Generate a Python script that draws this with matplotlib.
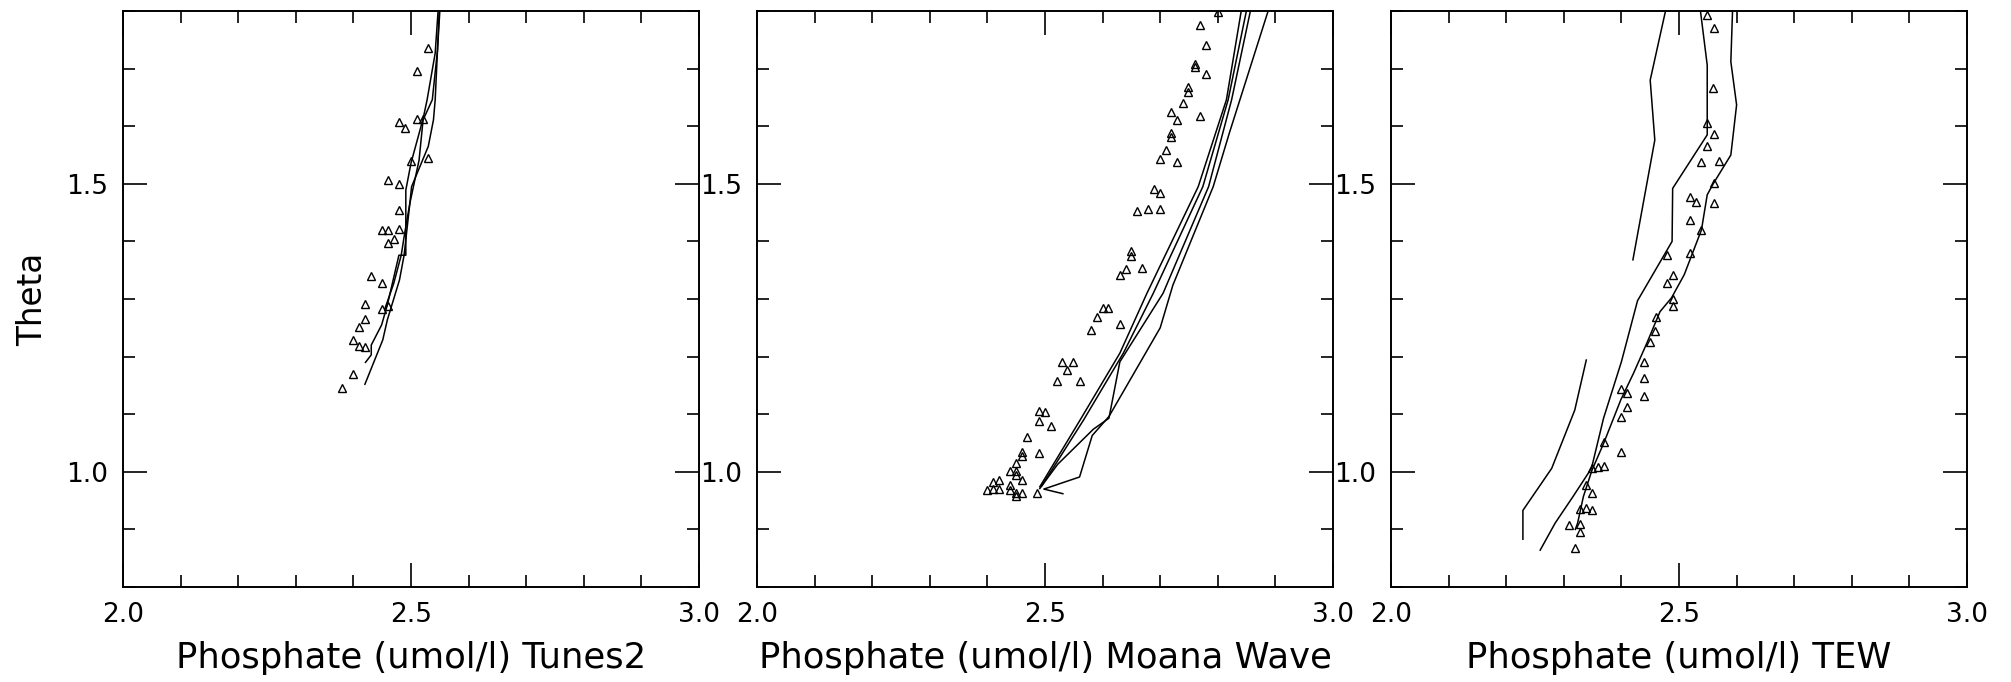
import matplotlib
matplotlib.use('Agg')
import matplotlib.pyplot as plt
from matplotlib.ticker import MultipleLocator

plt.rcParams['font.family'] = ['DejaVu Sans']

# ---------------- data ----------------
# Panel 1: Tunes2
tunes2_obs_x = [2.530, 2.510, 2.480, 2.490, 2.510, 2.521, 2.500, 2.530, 2.460, 2.480,
                2.480, 2.450, 2.460, 2.480, 2.470, 2.460, 2.430, 2.450, 2.421, 2.450,
                2.460, 2.421, 2.410, 2.400, 2.410, 2.421, 2.400, 2.380]
tunes2_obs_y = [1.736, 1.696, 1.607, 1.597, 1.612, 1.613, 1.540, 1.545, 1.507, 1.499,
                1.455, 1.420, 1.420, 1.421, 1.404, 1.397, 1.340, 1.327, 1.291, 1.283,
                1.288, 1.265, 1.252, 1.229, 1.219, 1.216, 1.170, 1.145]
tunes2_l1_x = [2.420, 2.451, 2.459, 2.480, 2.488, 2.498, 2.501, 2.530, 2.539, 2.542, 2.546, 2.549, 2.552]
tunes2_l1_y = [1.152, 1.229, 1.264, 1.333, 1.376, 1.466, 1.495, 1.565, 1.611, 1.646, 1.732, 1.800, 1.850]
tunes2_l2_x = [2.421, 2.431, 2.431, 2.449, 2.459, 2.479, 2.491, 2.491, 2.500, 2.521, 2.528, 2.542, 2.547, 2.551]
tunes2_l2_y = [1.190, 1.203, 1.220, 1.255, 1.290, 1.376, 1.376, 1.489, 1.536, 1.613, 1.646, 1.727, 1.800, 1.850]
tunes2_l3_x = [2.455, 2.470, 2.483, 2.489, 2.498, 2.514, 2.521, 2.537, 2.546, 2.553]
tunes2_l3_y = [1.284, 1.327, 1.376, 1.414, 1.466, 1.541, 1.611, 1.646, 1.732, 1.850]

# Panel 2: Moana Wave
moana_obs_x = [2.800, 2.769, 2.780, 2.760, 2.760, 2.780, 2.749, 2.749, 2.740, 2.719,
               2.730, 2.769, 2.719, 2.719, 2.710, 2.700, 2.730, 2.689, 2.700, 2.660,
               2.679, 2.700, 2.649, 2.649, 2.640, 2.630, 2.669,
               2.600, 2.610, 2.590, 2.630, 2.580, 2.530, 2.549, 2.539, 2.520, 2.560,
               2.490, 2.500, 2.490, 2.510, 2.469, 2.460, 2.460, 2.490, 2.450, 2.439,
               2.450, 2.450, 2.460, 2.409, 2.420, 2.439, 2.400, 2.410, 2.420, 2.439,
               2.450, 2.460, 2.450, 2.486]
moana_obs_y = [1.798, 1.776, 1.741, 1.708, 1.702, 1.691, 1.668, 1.660, 1.640, 1.624,
               1.611, 1.618, 1.589, 1.582, 1.558, 1.543, 1.537, 1.491, 1.484, 1.452,
               1.456, 1.456, 1.384, 1.374, 1.352, 1.342, 1.354,
               1.285, 1.284, 1.268, 1.256, 1.246, 1.190, 1.190, 1.176, 1.157, 1.157,
               1.106, 1.104, 1.089, 1.080, 1.061, 1.035, 1.028, 1.032, 1.015, 1.001,
               1.001, 0.995, 0.986, 0.983, 0.985, 0.977, 0.968, 0.971, 0.970, 0.968,
               0.963, 0.963, 0.958, 0.963]
moana_l1_x = [2.491, 2.522, 2.584, 2.611, 2.630, 2.705, 2.784, 2.824, 2.857, 2.870]
moana_l1_y = [0.971, 1.013, 1.074, 1.093, 1.191, 1.310, 1.495, 1.646, 1.802, 1.860]
moana_l2_x = [2.531, 2.498, 2.560, 2.582, 2.611, 2.700, 2.722, 2.792, 2.820, 2.888, 2.905]
moana_l2_y = [0.962, 0.970, 0.991, 1.063, 1.096, 1.250, 1.324, 1.495, 1.588, 1.802, 1.860]
moana_l3_x = [2.491, 2.561, 2.630, 2.677, 2.766, 2.815, 2.841, 2.851]
moana_l3_y = [0.974, 1.090, 1.206, 1.310, 1.495, 1.646, 1.802, 1.860]
moana_l4_x = [2.494, 2.567, 2.636, 2.688, 2.774, 2.818, 2.850, 2.860]
moana_l4_y = [0.975, 1.090, 1.206, 1.310, 1.495, 1.646, 1.802, 1.860]

# Panel 3: TEW
tew_obs_x = [2.549, 2.560, 2.559, 2.549, 2.560, 2.549, 2.539, 2.569, 2.560, 2.519,
             2.530, 2.560, 2.519, 2.539, 2.479, 2.519, 2.489, 2.479,
             2.489, 2.489, 2.460, 2.458, 2.449, 2.439, 2.439, 2.439, 2.399, 2.409,
             2.409, 2.399, 2.369, 2.399, 2.349, 2.359, 2.369, 2.339, 2.349, 2.328,
             2.339, 2.349, 2.309, 2.328, 2.328, 2.319]
tew_obs_y = [1.793, 1.771, 1.666, 1.606, 1.586, 1.566, 1.538, 1.540, 1.502, 1.477,
             1.469, 1.466, 1.437, 1.420, 1.376, 1.379, 1.342, 1.328,
             1.300, 1.287, 1.269, 1.245, 1.225, 1.190, 1.163, 1.132, 1.143, 1.137,
             1.113, 1.096, 1.051, 1.035, 1.007, 1.009, 1.010, 0.977, 0.964, 0.935,
             0.938, 0.934, 0.907, 0.909, 0.895, 0.868]
tew_l1a_x = [2.480, 2.477, 2.450, 2.458, 2.420]
tew_l1a_y = [1.830, 1.802, 1.680, 1.576, 1.368]
tew_l1b_x = [2.339, 2.319, 2.279, 2.229, 2.229]
tew_l1b_y = [1.194, 1.107, 1.006, 0.933, 0.883]
tew_l2_x = [2.535, 2.537, 2.549, 2.549, 2.489, 2.488, 2.428, 2.400, 2.369, 2.348, 2.316, 2.285, 2.259]
tew_l2_y = [1.830, 1.802, 1.706, 1.585, 1.492, 1.400, 1.297, 1.191, 1.093, 1.006, 0.957, 0.911, 0.864]
tew_l3_x = [2.595, 2.593, 2.590, 2.600, 2.590, 2.560, 2.549, 2.539, 2.509, 2.487, 2.467,
            2.444, 2.421, 2.399, 2.369, 2.349, 2.334, 2.324, 2.320]
tew_l3_y = [1.830, 1.802, 1.712, 1.637, 1.550, 1.501, 1.481, 1.420, 1.342, 1.302, 1.278,
            1.223, 1.171, 1.125, 1.049, 1.003, 0.957, 0.911, 0.900]

x_ticks = [2.0, 2.5, 3.0]
x_tick_labels = ['2.0', '2.5', '3.0']
y_ticks = [1.0, 1.5]
y_tick_labels = ['1.0', '1.5']

panels = [
    dict(label='Phosphate (umol/l) Tunes2', obs=(tunes2_obs_x, tunes2_obs_y),
         lines=[(tunes2_l1_x, tunes2_l1_y), (tunes2_l2_x, tunes2_l2_y), (tunes2_l3_x, tunes2_l3_y)]),
    dict(label='Phosphate (umol/l) Moana Wave', obs=(moana_obs_x, moana_obs_y),
         lines=[(moana_l1_x, moana_l1_y), (moana_l2_x, moana_l2_y),
                (moana_l3_x, moana_l3_y), (moana_l4_x, moana_l4_y)]),
    dict(label='Phosphate (umol/l) TEW', obs=(tew_obs_x, tew_obs_y),
         lines=[(tew_l1a_x, tew_l1a_y), (tew_l1b_x, tew_l1b_y),
                (tew_l2_x, tew_l2_y), (tew_l3_x, tew_l3_y)]),
]

# ---------------- figure ----------------
W, H = 2011, 682
fig = plt.figure(figsize=(W / 100, H / 100), dpi=100)
lefts_px = [123, 757, 1391]
ax_w, ax_h = 576, 576
bottom_px = H - 587

for i, p in enumerate(panels):
    ax = fig.add_axes([lefts_px[i] / W, bottom_px / H, ax_w / W, ax_h / H])
    ax.set_xlim(2.0, 3.0)
    ax.set_ylim(0.8, 1.8)
    for lx, ly in p['lines']:
        ax.plot(lx, ly, color='black', lw=1.1)
    ax.plot(p['obs'][0], p['obs'][1], ls='none', marker='^', ms=5.2,
            mfc='none', mec='black', mew=1.0)
    ax.set_xticks(x_ticks)
    ax.set_xticklabels(x_tick_labels)
    ax.set_yticks(y_ticks)
    ax.set_yticklabels(y_tick_labels)
    ax.xaxis.set_minor_locator(MultipleLocator(0.1))
    ax.yaxis.set_minor_locator(MultipleLocator(0.1))
    ax.tick_params(which='both', direction='in', top=True, right=True,
                   labelsize=19, colors='black')
    ax.tick_params(which='major', length=17.3, width=1.2)
    ax.tick_params(which='minor', length=8.6, width=1.2)
    ax.tick_params(axis='x', which='major', pad=10.5)
    ax.tick_params(axis='y', which='major', pad=10.5)
    for s in ax.spines.values():
        s.set_linewidth(1.4)
    ax.set_xlabel(p['label'], fontsize=25.5, labelpad=9.5)
    if i == 0:
        ax.set_ylabel('Theta', fontsize=23.5, labelpad=12.5)

fig.savefig('out.png', dpi=100, facecolor='white')
